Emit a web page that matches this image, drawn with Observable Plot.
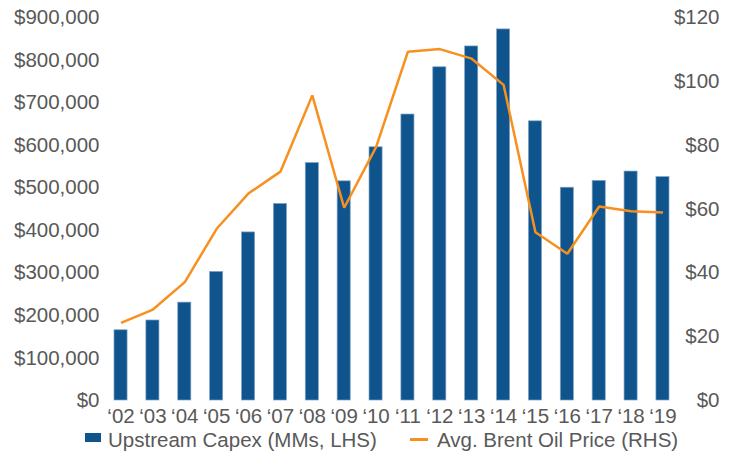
<!DOCTYPE html>
<html>
<head>
<meta charset="utf-8">
<script src="https://cdn.jsdelivr.net/npm/d3@7"></script>
<script src="https://cdn.jsdelivr.net/npm/@observablehq/plot@0.6"></script>
<style>
  body { margin: 0; background: #fff; font-family: "Liberation Sans", Arial, sans-serif; color: #595959; }
  #wrap { position: relative; width: 733px; height: 454px; }
  #wrap svg { overflow: visible; }
  .legend { position: absolute; top: 427px; font-size: 20.5px; line-height: 26px; white-space: nowrap; }
  .sw-bar { position: absolute; left: 85px; top: 433px; width: 16px; height: 9px; background: #0f548c; }
  .sw-line { position: absolute; left: 410px; top: 438px; width: 18px; height: 2.5px; background: #f7901e; }
</style>
</head>
<body>
<div id="wrap"></div>
<script>
// Years shown on the category axis
const years = ["‘02","‘03","‘04","‘05","‘06","‘07","‘08","‘09","‘10","‘11","‘12","‘13","‘14","‘15","‘16","‘17","‘18","‘19"];
// Upstream capex, $MM (left axis)
const capex = [165000,188000,230000,302000,395000,462000,558000,515000,595000,672000,783000,832000,872000,656000,500000,516000,538000,525000];
// Average Brent oil price, $/bbl (right axis)
const brent = [24.3,28.5,37.1,53.8,64.9,71.7,95.6,60.4,79.4,109.3,110.1,107.1,98.9,52.7,46.0,60.8,59.3,58.9];
// Axis ticks
const leftTicks = [0,100000,200000,300000,400000,500000,600000,700000,800000,900000];
const rightTicks = [0,20,40,60,80,100,120];

// The price axis shares the plot's y scale: $120 lines up with $900,000
const k = 900000 / 120;
const rows = years.map((year, i) => ({year, capex: capex[i], price: brent[i] * k}));
const fmt = d3.format(",");

const chart = Plot.plot({
  width: 733,
  height: 428,
  marginLeft: 114,
  marginRight: 64,
  marginTop: 17,
  marginBottom: 28,
  style: {fontFamily: "'Liberation Sans', Arial, sans-serif", fontSize: "20.5px", color: "#595959", background: "#fff"},
  x: {domain: years, paddingInner: 0.59, paddingOuter: 0, align: 0.5, round: false},
  y: {domain: [0, 900000]},
  marks: [
    Plot.barY(rows, {x: "year", y: "capex", fill: "#0f548c", stroke: "#7fa3c6", strokeWidth: 0.7}),
    Plot.line(rows, {x: "year", y: "price", stroke: "#f7901e", strokeWidth: 2.5, strokeLinejoin: "miter", strokeLinecap: "butt"}),
    Plot.axisX({tickSize: 0, tickPadding: 8, label: null}),
    Plot.axisY(leftTicks, {anchor: "left", tickSize: 0, tickPadding: 15, label: null, tickFormat: d => "$" + fmt(d)}),
    Plot.axisY(rightTicks.map(v => v * k), {anchor: "right", tickSize: 0, tickPadding: 50, textAnchor: "end", label: null, tickFormat: d => "$" + Math.round(d / k)})
  ]
});

const wrap = document.getElementById("wrap");
wrap.appendChild(chart);
wrap.insertAdjacentHTML("beforeend",
  '<div class="sw-bar"></div><div class="legend" style="left:108px">Upstream Capex (MMs, LHS)</div>' +
  '<div class="sw-line"></div><div class="legend" style="left:437px">Avg. Brent Oil Price (RHS)</div>');
</script>
</body>
</html>
